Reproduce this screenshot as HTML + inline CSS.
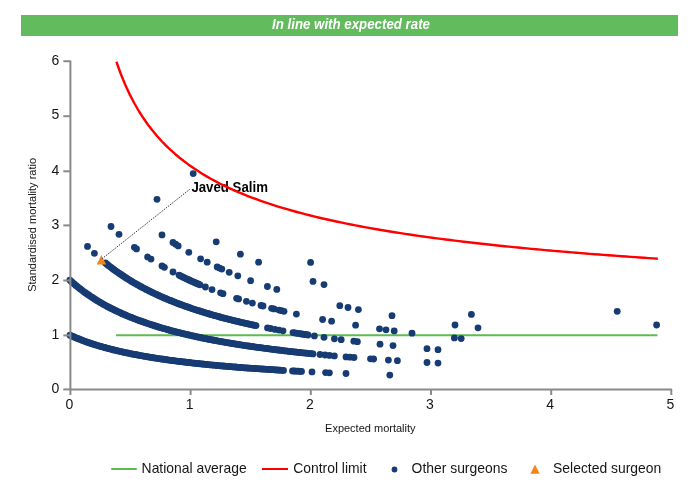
<!DOCTYPE html>
<html><head><meta charset="utf-8"><title>Funnel plot</title>
<style>
html,body{margin:0;padding:0;background:#fff;}
body{width:700px;height:500px;overflow:hidden;position:relative;font-family:"Liberation Sans",Arial,sans-serif;}
svg{position:absolute;left:0;top:0;}
text{font-family:"Liberation Sans",Arial,sans-serif;}
</style></head><body>
<svg width="700" height="500" viewBox="0 0 700 500">
<rect x="21" y="15" width="657" height="21" fill="#62bb5d"/>
<text x="272" y="28.9" textLength="158" lengthAdjust="spacingAndGlyphs" font-size="14" font-weight="bold" font-style="italic" fill="#fff">In line with expected rate</text>
<g font-size="14" fill="#161616">
<text x="59.3" y="392.6" text-anchor="end">0</text>
<text x="59.3" y="338.6" text-anchor="end">1</text>
<text x="59.3" y="283.7" text-anchor="end">2</text>
<text x="59.3" y="228.6" text-anchor="end">3</text>
<text x="59.3" y="174.5" text-anchor="end">4</text>
<text x="59.3" y="119.4" text-anchor="end">5</text>
<text x="59.3" y="64.5" text-anchor="end">6</text>
<text x="69.4" y="409.3" text-anchor="middle">0</text>
<text x="189.6" y="409.3" text-anchor="middle">1</text>
<text x="309.8" y="409.3" text-anchor="middle">2</text>
<text x="430.0" y="409.3" text-anchor="middle">3</text>
<text x="550.2" y="409.3" text-anchor="middle">4</text>
<text x="670.4" y="409.3" text-anchor="middle">5</text>
</g>
<text x="370.3" y="431.6" text-anchor="middle" font-size="11" fill="#161616">Expected mortality</text>
<text transform="translate(36.4 224.9) rotate(-90)" text-anchor="middle" font-size="11" fill="#161616">Standardised mortality ratio</text>
<path d="M116 335.2H657.4" stroke="#5dbb4f" stroke-width="2" fill="none"/>
<g fill="#173b73">
<circle cx="70.0" cy="335.2" r="3.4"/>
<circle cx="71.5" cy="335.9" r="3.4"/>
<circle cx="73.0" cy="336.5" r="3.4"/>
<circle cx="74.5" cy="337.2" r="3.4"/>
<circle cx="76.0" cy="337.8" r="3.4"/>
<circle cx="77.5" cy="338.4" r="3.4"/>
<circle cx="79.0" cy="339.0" r="3.4"/>
<circle cx="80.5" cy="339.6" r="3.4"/>
<circle cx="82.0" cy="340.2" r="3.4"/>
<circle cx="83.5" cy="340.8" r="3.4"/>
<circle cx="85.0" cy="341.3" r="3.4"/>
<circle cx="86.5" cy="341.9" r="3.4"/>
<circle cx="88.0" cy="342.4" r="3.4"/>
<circle cx="89.5" cy="342.9" r="3.4"/>
<circle cx="91.0" cy="343.4" r="3.4"/>
<circle cx="92.6" cy="343.9" r="3.4"/>
<circle cx="94.1" cy="344.4" r="3.4"/>
<circle cx="95.6" cy="344.9" r="3.4"/>
<circle cx="97.1" cy="345.3" r="3.4"/>
<circle cx="98.6" cy="345.8" r="3.4"/>
<circle cx="100.1" cy="346.2" r="3.4"/>
<circle cx="101.6" cy="346.7" r="3.4"/>
<circle cx="103.1" cy="347.1" r="3.4"/>
<circle cx="104.6" cy="347.5" r="3.4"/>
<circle cx="106.1" cy="347.9" r="3.4"/>
<circle cx="107.6" cy="348.3" r="3.4"/>
<circle cx="109.1" cy="348.7" r="3.4"/>
<circle cx="110.6" cy="349.1" r="3.4"/>
<circle cx="112.1" cy="349.5" r="3.4"/>
<circle cx="113.6" cy="349.9" r="3.4"/>
<circle cx="115.1" cy="350.2" r="3.4"/>
<circle cx="116.6" cy="350.6" r="3.4"/>
<circle cx="118.1" cy="350.9" r="3.4"/>
<circle cx="119.6" cy="351.3" r="3.4"/>
<circle cx="121.1" cy="351.6" r="3.4"/>
<circle cx="122.6" cy="352.0" r="3.4"/>
<circle cx="124.1" cy="352.3" r="3.4"/>
<circle cx="125.6" cy="352.6" r="3.4"/>
<circle cx="127.1" cy="352.9" r="3.4"/>
<circle cx="128.6" cy="353.2" r="3.4"/>
<circle cx="130.1" cy="353.6" r="3.4"/>
<circle cx="131.6" cy="353.9" r="3.4"/>
<circle cx="133.1" cy="354.2" r="3.4"/>
<circle cx="134.7" cy="354.4" r="3.4"/>
<circle cx="136.2" cy="354.7" r="3.4"/>
<circle cx="137.7" cy="355.0" r="3.4"/>
<circle cx="139.2" cy="355.3" r="3.4"/>
<circle cx="140.7" cy="355.6" r="3.4"/>
<circle cx="142.2" cy="355.8" r="3.4"/>
<circle cx="143.7" cy="356.1" r="3.4"/>
<circle cx="145.2" cy="356.4" r="3.4"/>
<circle cx="146.7" cy="356.6" r="3.4"/>
<circle cx="148.2" cy="356.9" r="3.4"/>
<circle cx="149.7" cy="357.1" r="3.4"/>
<circle cx="151.2" cy="357.4" r="3.4"/>
<circle cx="152.7" cy="357.6" r="3.4"/>
<circle cx="154.2" cy="357.9" r="3.4"/>
<circle cx="155.7" cy="358.1" r="3.4"/>
<circle cx="157.2" cy="358.3" r="3.4"/>
<circle cx="158.7" cy="358.6" r="3.4"/>
<circle cx="160.2" cy="358.8" r="3.4"/>
<circle cx="161.7" cy="359.0" r="3.4"/>
<circle cx="163.2" cy="359.2" r="3.4"/>
<circle cx="164.7" cy="359.4" r="3.4"/>
<circle cx="166.2" cy="359.7" r="3.4"/>
<circle cx="167.7" cy="359.9" r="3.4"/>
<circle cx="169.2" cy="360.1" r="3.4"/>
<circle cx="170.7" cy="360.3" r="3.4"/>
<circle cx="172.2" cy="360.5" r="3.4"/>
<circle cx="173.7" cy="360.7" r="3.4"/>
<circle cx="175.2" cy="360.9" r="3.4"/>
<circle cx="176.8" cy="361.1" r="3.4"/>
<circle cx="178.3" cy="361.3" r="3.4"/>
<circle cx="179.8" cy="361.5" r="3.4"/>
<circle cx="181.3" cy="361.6" r="3.4"/>
<circle cx="182.8" cy="361.8" r="3.4"/>
<circle cx="184.3" cy="362.0" r="3.4"/>
<circle cx="185.8" cy="362.2" r="3.4"/>
<circle cx="187.3" cy="362.4" r="3.4"/>
<circle cx="188.8" cy="362.5" r="3.4"/>
<circle cx="190.3" cy="362.7" r="3.4"/>
<circle cx="191.8" cy="362.9" r="3.4"/>
<circle cx="193.3" cy="363.1" r="3.4"/>
<circle cx="194.8" cy="363.2" r="3.4"/>
<circle cx="196.3" cy="363.4" r="3.4"/>
<circle cx="197.8" cy="363.5" r="3.4"/>
<circle cx="199.3" cy="363.7" r="3.4"/>
<circle cx="200.8" cy="363.9" r="3.4"/>
<circle cx="202.3" cy="364.0" r="3.4"/>
<circle cx="203.8" cy="364.2" r="3.4"/>
<circle cx="205.3" cy="364.3" r="3.4"/>
<circle cx="206.8" cy="364.5" r="3.4"/>
<circle cx="208.3" cy="364.6" r="3.4"/>
<circle cx="209.8" cy="364.8" r="3.4"/>
<circle cx="211.3" cy="364.9" r="3.4"/>
<circle cx="212.8" cy="365.1" r="3.4"/>
<circle cx="214.3" cy="365.2" r="3.4"/>
<circle cx="215.8" cy="365.3" r="3.4"/>
<circle cx="217.3" cy="365.5" r="3.4"/>
<circle cx="218.8" cy="365.6" r="3.4"/>
<circle cx="220.4" cy="365.8" r="3.4"/>
<circle cx="221.9" cy="365.9" r="3.4"/>
<circle cx="223.4" cy="366.0" r="3.4"/>
<circle cx="224.9" cy="366.2" r="3.4"/>
<circle cx="226.4" cy="366.3" r="3.4"/>
<circle cx="227.9" cy="366.4" r="3.4"/>
<circle cx="229.4" cy="366.5" r="3.4"/>
<circle cx="230.9" cy="366.7" r="3.4"/>
<circle cx="232.4" cy="366.8" r="3.4"/>
<circle cx="233.9" cy="366.9" r="3.4"/>
<circle cx="235.4" cy="367.0" r="3.4"/>
<circle cx="236.9" cy="367.2" r="3.4"/>
<circle cx="238.4" cy="367.3" r="3.4"/>
<circle cx="239.9" cy="367.4" r="3.4"/>
<circle cx="241.4" cy="367.5" r="3.4"/>
<circle cx="242.9" cy="367.6" r="3.4"/>
<circle cx="244.4" cy="367.8" r="3.4"/>
<circle cx="245.9" cy="367.9" r="3.4"/>
<circle cx="247.4" cy="368.0" r="3.4"/>
<circle cx="248.9" cy="368.1" r="3.4"/>
<circle cx="250.4" cy="368.2" r="3.4"/>
<circle cx="251.9" cy="368.3" r="3.4"/>
<circle cx="253.4" cy="368.4" r="3.4"/>
<circle cx="254.9" cy="368.5" r="3.4"/>
<circle cx="256.4" cy="368.6" r="3.4"/>
<circle cx="257.9" cy="368.7" r="3.4"/>
<circle cx="259.4" cy="368.8" r="3.4"/>
<circle cx="260.9" cy="368.9" r="3.4"/>
<circle cx="262.5" cy="369.0" r="3.4"/>
<circle cx="264.0" cy="369.1" r="3.4"/>
<circle cx="265.5" cy="369.2" r="3.4"/>
<circle cx="267.0" cy="369.3" r="3.4"/>
<circle cx="268.5" cy="369.4" r="3.4"/>
<circle cx="270.0" cy="369.5" r="3.4"/>
<circle cx="271.5" cy="369.6" r="3.4"/>
<circle cx="273.0" cy="369.7" r="3.4"/>
<circle cx="274.5" cy="369.8" r="3.4"/>
<circle cx="276.0" cy="369.9" r="3.4"/>
<circle cx="277.5" cy="370.0" r="3.4"/>
<circle cx="279.0" cy="370.1" r="3.4"/>
<circle cx="280.5" cy="370.2" r="3.4"/>
<circle cx="282.0" cy="370.3" r="3.4"/>
<circle cx="283.5" cy="370.4" r="3.4"/>
<circle cx="292.5" cy="370.9" r="3.4"/>
<circle cx="294.0" cy="371.0" r="3.4"/>
<circle cx="295.5" cy="371.1" r="3.4"/>
<circle cx="297.0" cy="371.1" r="3.4"/>
<circle cx="298.5" cy="371.2" r="3.4"/>
<circle cx="300.0" cy="371.3" r="3.4"/>
<circle cx="301.5" cy="371.4" r="3.4"/>
<circle cx="312.0" cy="371.9" r="3.4"/>
<circle cx="325.6" cy="372.6" r="3.4"/>
<circle cx="329.4" cy="372.8" r="3.4"/>
<circle cx="346.0" cy="373.5" r="3.4"/>
<circle cx="389.8" cy="375.1" r="3.4"/>
<circle cx="69.8" cy="280.1" r="3.4"/>
<circle cx="71.3" cy="281.5" r="3.4"/>
<circle cx="72.8" cy="282.8" r="3.4"/>
<circle cx="74.3" cy="284.1" r="3.4"/>
<circle cx="75.8" cy="285.4" r="3.4"/>
<circle cx="77.3" cy="286.6" r="3.4"/>
<circle cx="78.8" cy="287.8" r="3.4"/>
<circle cx="80.3" cy="289.0" r="3.4"/>
<circle cx="81.8" cy="290.1" r="3.4"/>
<circle cx="83.3" cy="291.3" r="3.4"/>
<circle cx="84.8" cy="292.4" r="3.4"/>
<circle cx="86.3" cy="293.5" r="3.4"/>
<circle cx="87.8" cy="294.5" r="3.4"/>
<circle cx="89.3" cy="295.5" r="3.4"/>
<circle cx="90.8" cy="296.6" r="3.4"/>
<circle cx="92.3" cy="297.5" r="3.4"/>
<circle cx="93.8" cy="298.5" r="3.4"/>
<circle cx="95.3" cy="299.5" r="3.4"/>
<circle cx="96.8" cy="300.4" r="3.4"/>
<circle cx="98.3" cy="301.3" r="3.4"/>
<circle cx="99.8" cy="302.2" r="3.4"/>
<circle cx="101.3" cy="303.1" r="3.4"/>
<circle cx="102.8" cy="303.9" r="3.4"/>
<circle cx="104.3" cy="304.8" r="3.4"/>
<circle cx="105.8" cy="305.6" r="3.4"/>
<circle cx="107.3" cy="306.4" r="3.4"/>
<circle cx="108.8" cy="307.2" r="3.4"/>
<circle cx="110.3" cy="308.0" r="3.4"/>
<circle cx="111.8" cy="308.7" r="3.4"/>
<circle cx="113.3" cy="309.5" r="3.4"/>
<circle cx="114.8" cy="310.2" r="3.4"/>
<circle cx="116.3" cy="310.9" r="3.4"/>
<circle cx="117.8" cy="311.6" r="3.4"/>
<circle cx="119.3" cy="312.3" r="3.4"/>
<circle cx="120.8" cy="313.0" r="3.4"/>
<circle cx="122.3" cy="313.7" r="3.4"/>
<circle cx="123.8" cy="314.4" r="3.4"/>
<circle cx="125.3" cy="315.0" r="3.4"/>
<circle cx="126.8" cy="315.6" r="3.4"/>
<circle cx="128.3" cy="316.3" r="3.4"/>
<circle cx="129.8" cy="316.9" r="3.4"/>
<circle cx="131.4" cy="317.5" r="3.4"/>
<circle cx="132.9" cy="318.1" r="3.4"/>
<circle cx="134.4" cy="318.7" r="3.4"/>
<circle cx="135.9" cy="319.3" r="3.4"/>
<circle cx="137.4" cy="319.8" r="3.4"/>
<circle cx="138.9" cy="320.4" r="3.4"/>
<circle cx="140.4" cy="320.9" r="3.4"/>
<circle cx="141.9" cy="321.5" r="3.4"/>
<circle cx="143.4" cy="322.0" r="3.4"/>
<circle cx="144.9" cy="322.5" r="3.4"/>
<circle cx="146.4" cy="323.1" r="3.4"/>
<circle cx="147.9" cy="323.6" r="3.4"/>
<circle cx="149.4" cy="324.1" r="3.4"/>
<circle cx="150.9" cy="324.6" r="3.4"/>
<circle cx="152.4" cy="325.0" r="3.4"/>
<circle cx="153.9" cy="325.5" r="3.4"/>
<circle cx="155.4" cy="326.0" r="3.4"/>
<circle cx="156.9" cy="326.5" r="3.4"/>
<circle cx="158.4" cy="326.9" r="3.4"/>
<circle cx="159.9" cy="327.4" r="3.4"/>
<circle cx="161.4" cy="327.8" r="3.4"/>
<circle cx="162.9" cy="328.3" r="3.4"/>
<circle cx="164.4" cy="328.7" r="3.4"/>
<circle cx="165.9" cy="329.1" r="3.4"/>
<circle cx="167.4" cy="329.5" r="3.4"/>
<circle cx="168.9" cy="330.0" r="3.4"/>
<circle cx="170.4" cy="330.4" r="3.4"/>
<circle cx="171.9" cy="330.8" r="3.4"/>
<circle cx="173.4" cy="331.2" r="3.4"/>
<circle cx="174.9" cy="331.6" r="3.4"/>
<circle cx="176.4" cy="332.0" r="3.4"/>
<circle cx="177.9" cy="332.3" r="3.4"/>
<circle cx="179.4" cy="332.7" r="3.4"/>
<circle cx="180.9" cy="333.1" r="3.4"/>
<circle cx="182.4" cy="333.5" r="3.4"/>
<circle cx="183.9" cy="333.8" r="3.4"/>
<circle cx="185.4" cy="334.2" r="3.4"/>
<circle cx="186.9" cy="334.5" r="3.4"/>
<circle cx="188.4" cy="334.9" r="3.4"/>
<circle cx="189.9" cy="335.2" r="3.4"/>
<circle cx="191.4" cy="335.6" r="3.4"/>
<circle cx="192.9" cy="335.9" r="3.4"/>
<circle cx="194.4" cy="336.2" r="3.4"/>
<circle cx="195.9" cy="336.6" r="3.4"/>
<circle cx="197.4" cy="336.9" r="3.4"/>
<circle cx="198.9" cy="337.2" r="3.4"/>
<circle cx="200.4" cy="337.5" r="3.4"/>
<circle cx="201.9" cy="337.9" r="3.4"/>
<circle cx="203.4" cy="338.2" r="3.4"/>
<circle cx="204.9" cy="338.5" r="3.4"/>
<circle cx="206.4" cy="338.8" r="3.4"/>
<circle cx="207.9" cy="339.1" r="3.4"/>
<circle cx="209.4" cy="339.4" r="3.4"/>
<circle cx="210.9" cy="339.7" r="3.4"/>
<circle cx="212.4" cy="340.0" r="3.4"/>
<circle cx="213.9" cy="340.2" r="3.4"/>
<circle cx="215.4" cy="340.5" r="3.4"/>
<circle cx="216.9" cy="340.8" r="3.4"/>
<circle cx="218.4" cy="341.1" r="3.4"/>
<circle cx="219.9" cy="341.3" r="3.4"/>
<circle cx="221.4" cy="341.6" r="3.4"/>
<circle cx="222.9" cy="341.9" r="3.4"/>
<circle cx="224.4" cy="342.1" r="3.4"/>
<circle cx="225.9" cy="342.4" r="3.4"/>
<circle cx="227.4" cy="342.7" r="3.4"/>
<circle cx="228.9" cy="342.9" r="3.4"/>
<circle cx="230.4" cy="343.2" r="3.4"/>
<circle cx="231.9" cy="343.4" r="3.4"/>
<circle cx="233.4" cy="343.7" r="3.4"/>
<circle cx="234.9" cy="343.9" r="3.4"/>
<circle cx="236.4" cy="344.2" r="3.4"/>
<circle cx="237.9" cy="344.4" r="3.4"/>
<circle cx="239.4" cy="344.6" r="3.4"/>
<circle cx="240.9" cy="344.9" r="3.4"/>
<circle cx="242.4" cy="345.1" r="3.4"/>
<circle cx="243.9" cy="345.3" r="3.4"/>
<circle cx="245.4" cy="345.6" r="3.4"/>
<circle cx="246.9" cy="345.8" r="3.4"/>
<circle cx="248.4" cy="346.0" r="3.4"/>
<circle cx="249.9" cy="346.2" r="3.4"/>
<circle cx="251.4" cy="346.5" r="3.4"/>
<circle cx="253.0" cy="346.7" r="3.4"/>
<circle cx="254.5" cy="346.9" r="3.4"/>
<circle cx="256.0" cy="347.1" r="3.4"/>
<circle cx="257.5" cy="347.3" r="3.4"/>
<circle cx="259.0" cy="347.5" r="3.4"/>
<circle cx="260.5" cy="347.7" r="3.4"/>
<circle cx="262.0" cy="347.9" r="3.4"/>
<circle cx="263.5" cy="348.1" r="3.4"/>
<circle cx="265.0" cy="348.3" r="3.4"/>
<circle cx="266.5" cy="348.5" r="3.4"/>
<circle cx="268.0" cy="348.7" r="3.4"/>
<circle cx="269.5" cy="348.9" r="3.4"/>
<circle cx="271.0" cy="349.1" r="3.4"/>
<circle cx="272.5" cy="349.3" r="3.4"/>
<circle cx="274.0" cy="349.5" r="3.4"/>
<circle cx="275.5" cy="349.7" r="3.4"/>
<circle cx="277.0" cy="349.9" r="3.4"/>
<circle cx="278.5" cy="350.0" r="3.4"/>
<circle cx="280.0" cy="350.2" r="3.4"/>
<circle cx="281.5" cy="350.4" r="3.4"/>
<circle cx="283.0" cy="350.6" r="3.4"/>
<circle cx="284.5" cy="350.8" r="3.4"/>
<circle cx="286.0" cy="350.9" r="3.4"/>
<circle cx="287.5" cy="351.1" r="3.4"/>
<circle cx="289.0" cy="351.3" r="3.4"/>
<circle cx="290.5" cy="351.5" r="3.4"/>
<circle cx="292.0" cy="351.6" r="3.4"/>
<circle cx="293.5" cy="351.8" r="3.4"/>
<circle cx="295.0" cy="352.0" r="3.4"/>
<circle cx="296.5" cy="352.1" r="3.4"/>
<circle cx="298.0" cy="352.3" r="3.4"/>
<circle cx="299.5" cy="352.5" r="3.4"/>
<circle cx="301.0" cy="352.6" r="3.4"/>
<circle cx="302.5" cy="352.8" r="3.4"/>
<circle cx="304.0" cy="352.9" r="3.4"/>
<circle cx="305.5" cy="353.1" r="3.4"/>
<circle cx="307.0" cy="353.2" r="3.4"/>
<circle cx="308.5" cy="353.4" r="3.4"/>
<circle cx="310.0" cy="353.6" r="3.4"/>
<circle cx="311.5" cy="353.7" r="3.4"/>
<circle cx="313.0" cy="353.9" r="3.4"/>
<circle cx="320.0" cy="354.5" r="3.4"/>
<circle cx="325.0" cy="355.0" r="3.4"/>
<circle cx="329.5" cy="355.4" r="3.4"/>
<circle cx="334.4" cy="355.9" r="3.4"/>
<circle cx="346.0" cy="356.9" r="3.4"/>
<circle cx="350.0" cy="357.2" r="3.4"/>
<circle cx="354.0" cy="357.5" r="3.4"/>
<circle cx="370.5" cy="358.8" r="3.4"/>
<circle cx="373.6" cy="359.0" r="3.4"/>
<circle cx="388.4" cy="360.1" r="3.4"/>
<circle cx="397.4" cy="360.7" r="3.4"/>
<circle cx="427.0" cy="362.5" r="3.4"/>
<circle cx="438.0" cy="363.1" r="3.4"/>
<circle cx="87.5" cy="246.4" r="3.4"/>
<circle cx="94.4" cy="253.3" r="3.4"/>
<circle cx="105.4" cy="263.0" r="3.4"/>
<circle cx="106.9" cy="264.2" r="3.4"/>
<circle cx="108.4" cy="265.4" r="3.4"/>
<circle cx="109.9" cy="266.6" r="3.4"/>
<circle cx="111.4" cy="267.7" r="3.4"/>
<circle cx="112.9" cy="268.9" r="3.4"/>
<circle cx="114.4" cy="270.0" r="3.4"/>
<circle cx="115.9" cy="271.1" r="3.4"/>
<circle cx="117.4" cy="272.1" r="3.4"/>
<circle cx="119.0" cy="273.2" r="3.4"/>
<circle cx="120.5" cy="274.2" r="3.4"/>
<circle cx="122.0" cy="275.2" r="3.4"/>
<circle cx="123.5" cy="276.2" r="3.4"/>
<circle cx="125.0" cy="277.2" r="3.4"/>
<circle cx="126.5" cy="278.2" r="3.4"/>
<circle cx="128.0" cy="279.1" r="3.4"/>
<circle cx="129.5" cy="280.1" r="3.4"/>
<circle cx="131.0" cy="281.0" r="3.4"/>
<circle cx="132.5" cy="281.9" r="3.4"/>
<circle cx="134.0" cy="282.8" r="3.4"/>
<circle cx="135.5" cy="283.6" r="3.4"/>
<circle cx="137.0" cy="284.5" r="3.4"/>
<circle cx="138.5" cy="285.3" r="3.4"/>
<circle cx="140.0" cy="286.2" r="3.4"/>
<circle cx="141.5" cy="287.0" r="3.4"/>
<circle cx="143.1" cy="287.8" r="3.4"/>
<circle cx="144.6" cy="288.6" r="3.4"/>
<circle cx="146.1" cy="289.4" r="3.4"/>
<circle cx="147.6" cy="290.1" r="3.4"/>
<circle cx="149.1" cy="290.9" r="3.4"/>
<circle cx="150.6" cy="291.6" r="3.4"/>
<circle cx="152.1" cy="292.4" r="3.4"/>
<circle cx="153.6" cy="293.1" r="3.4"/>
<circle cx="155.1" cy="293.8" r="3.4"/>
<circle cx="156.6" cy="294.5" r="3.4"/>
<circle cx="158.1" cy="295.2" r="3.4"/>
<circle cx="159.6" cy="295.9" r="3.4"/>
<circle cx="161.1" cy="296.6" r="3.4"/>
<circle cx="162.6" cy="297.2" r="3.4"/>
<circle cx="164.1" cy="297.9" r="3.4"/>
<circle cx="165.6" cy="298.5" r="3.4"/>
<circle cx="167.1" cy="299.2" r="3.4"/>
<circle cx="168.7" cy="299.8" r="3.4"/>
<circle cx="170.2" cy="300.4" r="3.4"/>
<circle cx="171.7" cy="301.0" r="3.4"/>
<circle cx="173.2" cy="301.6" r="3.4"/>
<circle cx="174.7" cy="302.2" r="3.4"/>
<circle cx="176.2" cy="302.8" r="3.4"/>
<circle cx="177.7" cy="303.4" r="3.4"/>
<circle cx="179.2" cy="304.0" r="3.4"/>
<circle cx="180.7" cy="304.5" r="3.4"/>
<circle cx="182.2" cy="305.1" r="3.4"/>
<circle cx="183.7" cy="305.6" r="3.4"/>
<circle cx="185.2" cy="306.2" r="3.4"/>
<circle cx="186.7" cy="306.7" r="3.4"/>
<circle cx="188.2" cy="307.2" r="3.4"/>
<circle cx="189.7" cy="307.7" r="3.4"/>
<circle cx="191.2" cy="308.3" r="3.4"/>
<circle cx="192.7" cy="308.8" r="3.4"/>
<circle cx="194.3" cy="309.3" r="3.4"/>
<circle cx="195.8" cy="309.8" r="3.4"/>
<circle cx="197.3" cy="310.3" r="3.4"/>
<circle cx="198.8" cy="310.7" r="3.4"/>
<circle cx="200.3" cy="311.2" r="3.4"/>
<circle cx="201.8" cy="311.7" r="3.4"/>
<circle cx="203.3" cy="312.2" r="3.4"/>
<circle cx="204.8" cy="312.6" r="3.4"/>
<circle cx="206.3" cy="313.1" r="3.4"/>
<circle cx="207.8" cy="313.5" r="3.4"/>
<circle cx="209.3" cy="314.0" r="3.4"/>
<circle cx="210.8" cy="314.4" r="3.4"/>
<circle cx="212.3" cy="314.8" r="3.4"/>
<circle cx="213.8" cy="315.3" r="3.4"/>
<circle cx="215.3" cy="315.7" r="3.4"/>
<circle cx="216.8" cy="316.1" r="3.4"/>
<circle cx="218.4" cy="316.5" r="3.4"/>
<circle cx="219.9" cy="317.0" r="3.4"/>
<circle cx="221.4" cy="317.4" r="3.4"/>
<circle cx="222.9" cy="317.8" r="3.4"/>
<circle cx="224.4" cy="318.2" r="3.4"/>
<circle cx="225.9" cy="318.6" r="3.4"/>
<circle cx="227.4" cy="318.9" r="3.4"/>
<circle cx="228.9" cy="319.3" r="3.4"/>
<circle cx="230.4" cy="319.7" r="3.4"/>
<circle cx="231.9" cy="320.1" r="3.4"/>
<circle cx="233.4" cy="320.5" r="3.4"/>
<circle cx="234.9" cy="320.8" r="3.4"/>
<circle cx="236.4" cy="321.2" r="3.4"/>
<circle cx="237.9" cy="321.5" r="3.4"/>
<circle cx="239.4" cy="321.9" r="3.4"/>
<circle cx="240.9" cy="322.3" r="3.4"/>
<circle cx="242.4" cy="322.6" r="3.4"/>
<circle cx="244.0" cy="323.0" r="3.4"/>
<circle cx="245.5" cy="323.3" r="3.4"/>
<circle cx="247.0" cy="323.6" r="3.4"/>
<circle cx="248.5" cy="324.0" r="3.4"/>
<circle cx="250.0" cy="324.3" r="3.4"/>
<circle cx="251.5" cy="324.6" r="3.4"/>
<circle cx="253.0" cy="325.0" r="3.4"/>
<circle cx="254.5" cy="325.3" r="3.4"/>
<circle cx="256.0" cy="325.6" r="3.4"/>
<circle cx="267.5" cy="327.9" r="3.4"/>
<circle cx="270.5" cy="328.5" r="3.4"/>
<circle cx="275.0" cy="329.4" r="3.4"/>
<circle cx="279.0" cy="330.1" r="3.4"/>
<circle cx="283.0" cy="330.8" r="3.4"/>
<circle cx="293.0" cy="332.6" r="3.4"/>
<circle cx="294.5" cy="332.8" r="3.4"/>
<circle cx="296.0" cy="333.1" r="3.4"/>
<circle cx="297.5" cy="333.3" r="3.4"/>
<circle cx="299.0" cy="333.6" r="3.4"/>
<circle cx="300.5" cy="333.8" r="3.4"/>
<circle cx="302.0" cy="334.0" r="3.4"/>
<circle cx="303.5" cy="334.3" r="3.4"/>
<circle cx="305.0" cy="334.5" r="3.4"/>
<circle cx="306.5" cy="334.7" r="3.4"/>
<circle cx="308.0" cy="335.0" r="3.4"/>
<circle cx="314.4" cy="335.9" r="3.4"/>
<circle cx="324.0" cy="337.3" r="3.4"/>
<circle cx="334.4" cy="338.8" r="3.4"/>
<circle cx="341.2" cy="339.7" r="3.4"/>
<circle cx="353.8" cy="341.2" r="3.4"/>
<circle cx="357.4" cy="341.7" r="3.4"/>
<circle cx="380.0" cy="344.2" r="3.4"/>
<circle cx="393.0" cy="345.6" r="3.4"/>
<circle cx="427.0" cy="348.7" r="3.4"/>
<circle cx="438.0" cy="349.7" r="3.4"/>
<circle cx="111.0" cy="226.5" r="3.4"/>
<circle cx="119.0" cy="234.3" r="3.4"/>
<circle cx="134.4" cy="247.3" r="3.4"/>
<circle cx="136.5" cy="248.9" r="3.4"/>
<circle cx="147.6" cy="256.9" r="3.4"/>
<circle cx="151.0" cy="259.1" r="3.4"/>
<circle cx="162.0" cy="265.9" r="3.4"/>
<circle cx="164.4" cy="267.3" r="3.4"/>
<circle cx="173.0" cy="272.0" r="3.4"/>
<circle cx="179.0" cy="275.1" r="3.4"/>
<circle cx="180.5" cy="275.9" r="3.4"/>
<circle cx="182.0" cy="276.6" r="3.4"/>
<circle cx="183.5" cy="277.4" r="3.4"/>
<circle cx="185.0" cy="278.1" r="3.4"/>
<circle cx="186.5" cy="278.8" r="3.4"/>
<circle cx="188.0" cy="279.5" r="3.4"/>
<circle cx="189.5" cy="280.2" r="3.4"/>
<circle cx="191.0" cy="280.9" r="3.4"/>
<circle cx="192.5" cy="281.6" r="3.4"/>
<circle cx="194.0" cy="282.2" r="3.4"/>
<circle cx="195.5" cy="282.9" r="3.4"/>
<circle cx="197.0" cy="283.5" r="3.4"/>
<circle cx="198.5" cy="284.2" r="3.4"/>
<circle cx="200.0" cy="284.8" r="3.4"/>
<circle cx="205.4" cy="287.0" r="3.4"/>
<circle cx="212.0" cy="289.6" r="3.4"/>
<circle cx="220.6" cy="292.8" r="3.4"/>
<circle cx="223.0" cy="293.7" r="3.4"/>
<circle cx="236.6" cy="298.3" r="3.4"/>
<circle cx="238.6" cy="298.9" r="3.4"/>
<circle cx="246.4" cy="301.3" r="3.4"/>
<circle cx="252.4" cy="303.1" r="3.4"/>
<circle cx="261.0" cy="305.5" r="3.4"/>
<circle cx="263.0" cy="306.0" r="3.4"/>
<circle cx="271.6" cy="308.3" r="3.4"/>
<circle cx="274.0" cy="308.9" r="3.4"/>
<circle cx="279.0" cy="310.1" r="3.4"/>
<circle cx="281.6" cy="310.7" r="3.4"/>
<circle cx="284.0" cy="311.3" r="3.4"/>
<circle cx="296.4" cy="314.1" r="3.4"/>
<circle cx="322.6" cy="319.5" r="3.4"/>
<circle cx="331.6" cy="321.2" r="3.4"/>
<circle cx="355.6" cy="325.2" r="3.4"/>
<circle cx="379.5" cy="328.8" r="3.4"/>
<circle cx="386.0" cy="329.8" r="3.4"/>
<circle cx="394.2" cy="330.9" r="3.4"/>
<circle cx="412.0" cy="333.2" r="3.4"/>
<circle cx="454.4" cy="337.9" r="3.4"/>
<circle cx="461.2" cy="338.6" r="3.4"/>
<circle cx="162.0" cy="234.9" r="3.4"/>
<circle cx="173.0" cy="242.5" r="3.4"/>
<circle cx="175.6" cy="244.2" r="3.4"/>
<circle cx="178.2" cy="245.9" r="3.4"/>
<circle cx="188.8" cy="252.3" r="3.4"/>
<circle cx="200.6" cy="258.8" r="3.4"/>
<circle cx="207.2" cy="262.2" r="3.4"/>
<circle cx="217.2" cy="267.0" r="3.4"/>
<circle cx="219.6" cy="268.1" r="3.4"/>
<circle cx="221.8" cy="269.1" r="3.4"/>
<circle cx="229.2" cy="272.3" r="3.4"/>
<circle cx="237.8" cy="275.8" r="3.4"/>
<circle cx="250.6" cy="280.7" r="3.4"/>
<circle cx="267.4" cy="286.5" r="3.4"/>
<circle cx="276.8" cy="289.4" r="3.4"/>
<circle cx="339.8" cy="305.7" r="3.4"/>
<circle cx="348.0" cy="307.5" r="3.4"/>
<circle cx="358.4" cy="309.6" r="3.4"/>
<circle cx="392.0" cy="315.7" r="3.4"/>
<circle cx="455.0" cy="325.0" r="3.4"/>
<circle cx="478.0" cy="327.8" r="3.4"/>
<circle cx="157.0" cy="199.3" r="3.4"/>
<circle cx="216.2" cy="241.8" r="3.4"/>
<circle cx="240.4" cy="254.2" r="3.4"/>
<circle cx="258.6" cy="262.2" r="3.4"/>
<circle cx="313.0" cy="281.4" r="3.4"/>
<circle cx="324.0" cy="284.6" r="3.4"/>
<circle cx="471.4" cy="314.4" r="3.4"/>
<circle cx="310.6" cy="262.4" r="3.4"/>
<circle cx="656.6" cy="325.0" r="3.4"/>
<circle cx="193.2" cy="173.6" r="3.4"/>
<circle cx="617.2" cy="311.3" r="3.4"/>
</g>
<path d="M101.4 254.9l4.7 9.6h-9.4z" fill="#f5851a"/>
<path d="M189.6 189.4L101.4 259.3" stroke="#222" stroke-width="1" stroke-dasharray="1.2 1.2" fill="none"/>
<text x="191.4" y="192.1" textLength="76.5" lengthAdjust="spacingAndGlyphs" font-size="14" font-weight="bold" fill="#000">Javed Salim</text>
<path d="M116.42 61.75 L120.93 74.26 L125.44 85.20 L129.95 94.87 L134.46 103.50 L138.97 111.26 L143.49 118.29 L148.00 124.70 L152.51 130.57 L157.02 135.97 L161.53 140.97 L166.04 145.61 L170.55 149.93 L175.07 153.97 L179.58 157.75 L184.09 161.31 L188.60 164.66 L193.11 167.83 L197.62 170.82 L202.14 173.66 L206.65 176.36 L211.16 178.93 L215.67 181.37 L220.18 183.71 L224.69 185.94 L229.20 188.08 L233.72 190.12 L238.23 192.09 L242.74 193.97 L247.25 195.79 L251.76 197.53 L256.27 199.21 L260.78 200.83 L265.30 202.40 L269.81 203.91 L274.32 205.37 L278.83 206.78 L283.34 208.15 L287.85 209.47 L292.37 210.76 L296.88 212.00 L301.39 213.21 L305.90 214.38 L310.41 215.52 L314.92 216.63 L319.43 217.71 L323.95 218.76 L328.46 219.78 L332.97 220.78 L337.48 221.75 L341.99 222.70 L346.50 223.62 L351.01 224.52 L355.53 225.40 L360.04 226.26 L364.55 227.09 L369.06 227.91 L373.57 228.71 L378.08 229.50 L382.60 230.26 L387.11 231.01 L391.62 231.75 L396.13 232.47 L400.64 233.17 L405.15 233.86 L409.66 234.53 L414.18 235.20 L418.69 235.85 L423.20 236.48 L427.71 237.11 L432.22 237.72 L436.73 238.32 L441.24 238.91 L445.76 239.49 L450.27 240.06 L454.78 240.62 L459.29 241.17 L463.80 241.71 L468.31 242.24 L472.83 242.77 L477.34 243.28 L481.85 243.79 L486.36 244.28 L490.87 244.77 L495.38 245.25 L499.89 245.73 L504.41 246.19 L508.92 246.65 L513.43 247.10 L517.94 247.55 L522.45 247.98 L526.96 248.42 L531.48 248.84 L535.99 249.26 L540.50 249.67 L545.01 250.08 L549.52 250.48 L554.03 250.88 L558.54 251.27 L563.06 251.65 L567.57 252.03 L572.08 252.41 L576.59 252.78 L581.10 253.14 L585.61 253.50 L590.12 253.86 L594.64 254.21 L599.15 254.55 L603.66 254.89 L608.17 255.23 L612.68 255.57 L617.19 255.89 L621.71 256.22 L626.22 256.54 L630.73 256.86 L635.24 257.17 L639.75 257.48 L644.26 257.79 L648.77 258.09 L653.29 258.39 L657.80 258.68" stroke="#ff0000" stroke-width="2.4" fill="none" stroke-linejoin="round"/>
<g stroke="#8a8a8a" stroke-width="2" fill="none" stroke-linejoin="round">
<path d="M63.3 61.3H70.4V389.4H671.3V395"/>
<path d="M63.3 389.4H70.4"/>
<path d="M63.3 335.4H70.4"/>
<path d="M63.3 280.5H70.4"/>
<path d="M63.3 225.4H70.4"/>
<path d="M63.3 171.3H70.4"/>
<path d="M63.3 116.2H70.4"/>
<path d="M70.4 389.4V395"/>
<path d="M190.6 389.4V395"/>
<path d="M310.8 389.4V395"/>
<path d="M431.0 389.4V395"/>
<path d="M551.2 389.4V395"/>
</g>
<path d="M111.2 469H136.8" stroke="#5dbb4f" stroke-width="2"/>
<path d="M262 469H288" stroke="#ff0000" stroke-width="2"/>
<circle cx="394.5" cy="469.5" r="2.9" fill="#173b73"/>
<path d="M535 464.5l4.6 9.3h-9.2z" fill="#f5851a"/>
<g font-size="13.9" fill="#161616">
<text x="141.6" y="473.3">National average</text>
<text x="293.2" y="473.3">Control limit</text>
<text x="411.6" y="473.3">Other surgeons</text>
<text x="553.1" y="473.3">Selected surgeon</text>
</g>
</svg>
</body></html>
